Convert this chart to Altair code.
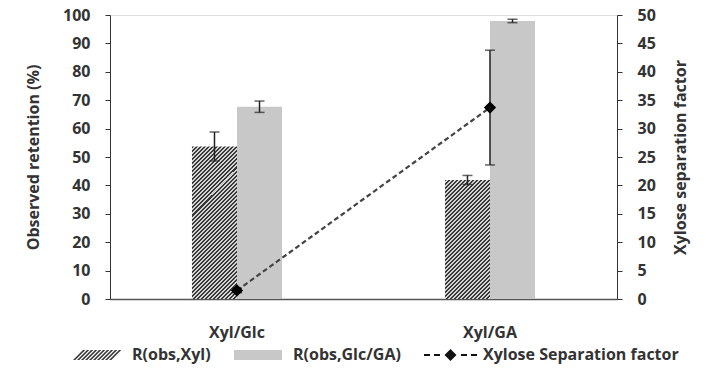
import altair as alt
import pandas as pd

categories = ["Xyl/Glc", "Xyl/GA"]
series_names = ["R(obs,Xyl)", "R(obs,Glc/GA)", "Xylose Separation factor"]

r_xyl = [53.7, 41.9]
r_xyl_err = [5.1, 1.6]
r_glc = [67.7, 97.9]
r_glc_err = [2.0, 0.6]
sep = [1.5, 33.7]
sep_err = [0.4, 10.1]

FONT = "Open Sans"
FS = 16
TXT = "#333333"

# layout (plot area)
PW, PH = 507, 284

rows = []
for i, c in enumerate(categories):
    rows.append(dict(cat=c, series=series_names[0], value=r_xyl[i],
                     lo=r_xyl[i] - r_xyl_err[i], hi=r_xyl[i] + r_xyl_err[i]))
    rows.append(dict(cat=c, series=series_names[1], value=r_glc[i],
                     lo=r_glc[i] - r_glc_err[i], hi=r_glc[i] + r_glc_err[i]))
bars = pd.DataFrame(rows)

sep_df = pd.DataFrame(dict(cat=categories, sep=sep,
                           lo=[s - e for s, e in zip(sep, sep_err)],
                           hi=[s + e for s, e in zip(sep, sep_err)]))

legend_df = pd.DataFrame(dict(series=series_names))


def hatch(value, w=45.0, period=4.0, dark="#383838", light="#d4d4d4"):
    h = value / 100.0 * PH
    s = (w + h) / (w * w + h * h)
    n = max(1, round((w + h) / period))
    stops = []
    for k in range(n):
        a, m, b = k / n, (k + 0.5) / n, (k + 1) / n
        stops += [dict(offset=a, color=dark), dict(offset=m, color=dark),
                  dict(offset=m, color=light), dict(offset=b, color=light)]
    return dict(gradient="linear", x1=0, y1=0, x2=s * w, y2=s * h, stops=stops)


x_axis = alt.Axis(title=None, labelAngle=0, ticks=False, labelPadding=25,
                  domainColor="#555555", domainWidth=1.5,
                  labelFont=FONT, labelFontSize=FS, labelFontWeight="bold",
                  labelColor=TXT)
X = alt.X("cat:N", sort=categories, axis=x_axis,
          scale=alt.Scale(paddingInner=0.644, paddingOuter=0.324))
XO = alt.XOffset("series:N", sort=series_names[:2],
                 scale=alt.Scale(domain=series_names[:2], paddingInner=0, paddingOuter=0))

y_left_axis = alt.Axis(title="Observed retention (%)", orient="left",
                       values=list(range(0, 101, 10)), grid=False, labelOverlap=False,
                       tickSize=5, tickColor="#333333", domainColor="#333333",
                       labelPadding=15, labelFont=FONT, labelFontSize=FS,
                       labelFontWeight="bold", labelColor=TXT,
                       titleFont=FONT, titleFontSize=FS, titleFontWeight="bold",
                       titleColor=TXT, titlePadding=21)
left_scale = alt.Scale(domain=[0, 100], nice=False)
YL = alt.Y("value:Q", scale=left_scale, axis=y_left_axis)

base_bars = alt.Chart(bars).encode(x=X, xOffset=XO)

hatch_glc = base_bars.transform_filter(
    (alt.datum.series == series_names[0]) & (alt.datum.cat == categories[0])
).mark_bar(fill=hatch(r_xyl[0]), strokeWidth=0).encode(y=YL)
hatch_ga = base_bars.transform_filter(
    (alt.datum.series == series_names[0]) & (alt.datum.cat == categories[1])
).mark_bar(fill=hatch(r_xyl[1]), strokeWidth=0).encode(y=YL)
grey = base_bars.transform_filter(
    alt.datum.series == series_names[1]
).mark_bar(fill="#c8c8c8", strokeWidth=0).encode(y=YL)

err_rule = base_bars.mark_rule(color="#222222", strokeWidth=1.5).encode(
    y=alt.Y("lo:Q", scale=left_scale, axis=y_left_axis), y2="hi:Q")
cap_lo = base_bars.mark_tick(color="#222222", thickness=1.5, size=10).encode(
    y=alt.Y("lo:Q", scale=left_scale, axis=y_left_axis))
cap_hi = base_bars.mark_tick(color="#222222", thickness=1.5, size=10).encode(
    y=alt.Y("hi:Q", scale=left_scale, axis=y_left_axis))

# legend-only layer (no marks drawn; entries come from the explicit scale domains)
hatched_path = " ".join(
    f"M{a:.2f},1 L{a + 0.45:.2f},1 L{a + 2.45:.2f},-1 L{a + 2:.2f},-1 Z"
    for a in [-1 + k * 0.8 for k in range(10)]
)
grey_path = "M-1,-1 L8.6,-1 L8.6,1 L-1,1 Z"
sep_path = ("M-1,-0.2 L0.2,-0.2 L0.2,0.2 L-1,0.2 Z "
            "M1.0,-0.2 L2.2,-0.2 L2.2,0.2 L1.0,0.2 Z "
            "M3.1,0 L4.3,-1.2 L5.5,0 L4.3,1.2 Z "
            "M6.4,-0.2 L7.6,-0.2 L7.6,0.2 L6.4,0.2 Z "
            "M8.4,-0.2 L9.6,-0.2 L9.6,0.2 L8.4,0.2 Z")

leg = alt.Legend(title=None, orient="none", direction="horizontal",
                 legendX=-40, legendY=332, labelFont=FONT, labelFontSize=FS,
                 labelFontWeight="bold", labelColor=TXT, labelOffset=46,
                 labelLimit=400, columnPadding=20, symbolStrokeWidth=0,
                 symbolSize=100)
legend_layer = alt.Chart(legend_df).transform_filter("false").mark_point(
    filled=True, opacity=1, size=100).encode(
    fill=alt.Fill("series:N", sort=series_names,
                  scale=alt.Scale(domain=series_names,
                                  range=["#383838", "#c8c8c8", "#111111"]),
                  legend=leg),
    shape=alt.Shape("series:N", sort=series_names,
                    scale=alt.Scale(domain=series_names,
                                    range=[hatched_path, grey_path, sep_path]),
                    legend=leg),
)

left = alt.layer(hatch_glc, hatch_ga, grey, err_rule, cap_lo, cap_hi, legend_layer)

y_right_axis = alt.Axis(title="Xylose separation factor", orient="right",
                        values=list(range(0, 51, 5)), grid=False, labelOverlap=False,
                        tickSize=5, tickColor="#333333", domainColor="#333333",
                        labelPadding=15, labelFont=FONT, labelFontSize=FS,
                        labelFontWeight="bold", labelColor=TXT, titleAngle=270,
                        titleFont=FONT, titleFontSize=FS, titleFontWeight="bold",
                        titleColor=TXT, titlePadding=33)
right_scale = alt.Scale(domain=[0, 50], nice=False)
YR = alt.Y("sep:Q", scale=right_scale, axis=y_right_axis)

base_sep = alt.Chart(sep_df).encode(x=X)
sep_line = base_sep.mark_line(color="#444444", strokeWidth=2.2, strokeDash=[5, 3]).encode(y=YR)
sep_rule = base_sep.mark_rule(color="#222222", strokeWidth=1.5).encode(
    y=alt.Y("lo:Q", scale=right_scale, axis=y_right_axis), y2="hi:Q")
sep_cap_lo = base_sep.mark_tick(color="#222222", thickness=1.5, size=10).encode(
    y=alt.Y("lo:Q", scale=right_scale, axis=y_right_axis))
sep_cap_hi = base_sep.mark_tick(color="#222222", thickness=1.5, size=10).encode(
    y=alt.Y("hi:Q", scale=right_scale, axis=y_right_axis))
sep_pts = base_sep.mark_point(shape="diamond", filled=True, size=150,
                              color="#000000", opacity=1).encode(y=YR)

right = alt.layer(sep_line, sep_rule, sep_cap_lo, sep_cap_hi, sep_pts)

chart = alt.layer(left, right).resolve_scale(y="independent").properties(
    width=PW, height=PH,
    autosize=alt.AutoSizeParams(type="none"),
    padding={"left": 110, "top": 15, "right": 93, "bottom": 76},
).configure_view(stroke=None).configure(background="white")

chart.save("out.html", embed_options={"renderer": "svg", "actions": False})
